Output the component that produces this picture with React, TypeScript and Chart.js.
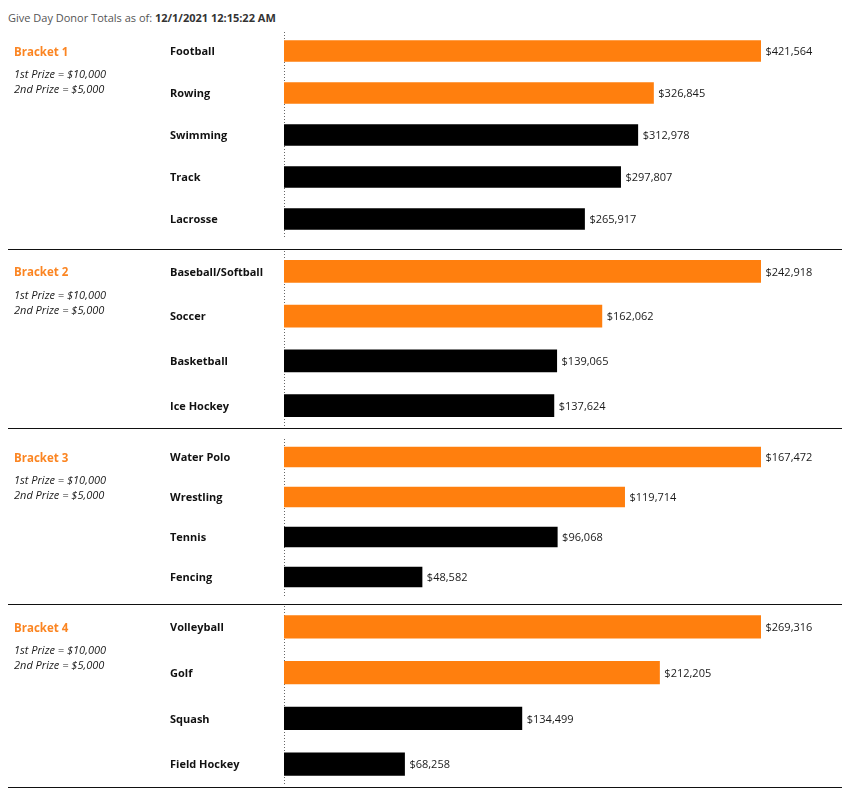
import React, { useEffect, useRef } from "react";
import { Chart, registerables } from "chart.js";

Chart.register(...registerables);

const FONT = "'Open Sans', 'DejaVu Sans', sans-serif";
const ORANGE = "#ff7f0e";
const BLACK = "#000000";

const titleText = "Give Day Donor Totals as of: ";
const titleDate = "12/1/2021 12:15:22 AM";
const prize1 = "1st Prize = $10,000";
const prize2 = "2nd Prize = $5,000";

const bracket1Labels = ["Football", "Rowing", "Swimming", "Track", "Lacrosse"];
const bracket1Values = [421564, 326845, 312978, 297807, 265917];
const bracket1Colors = [ORANGE, ORANGE, BLACK, BLACK, BLACK];

const bracket2Labels = ["Baseball/Softball", "Soccer", "Basketball", "Ice Hockey"];
const bracket2Values = [242918, 162062, 139065, 137624];
const bracket2Colors = [ORANGE, ORANGE, BLACK, BLACK];

const bracket3Labels = ["Water Polo", "Wrestling", "Tennis", "Fencing"];
const bracket3Values = [167472, 119714, 96068, 48582];
const bracket3Colors = [ORANGE, ORANGE, BLACK, BLACK];

const bracket4Labels = ["Volleyball", "Golf", "Squash", "Field Hockey"];
const bracket4Values = [269316, 212205, 134499, 68258];
const bracket4Colors = [ORANGE, ORANGE, BLACK, BLACK];

const CANVAS_W = 834;
const AXIS_LEFT_PAD = 162;
const AXIS_W = 114;
const SCALE_HEADROOM = 558 / 477;

const fmt = (v: number) => "$" + v.toLocaleString("en-US");

type BracketProps = {
  name: string;
  labels: string[];
  values: number[];
  colors: string[];
  top: number;
  height: number;
  padTop: number;
  padBottom: number;
};

function BracketChart(p: BracketProps) {
  const ref = useRef<HTMLCanvasElement | null>(null);
  useEffect(() => {
    if (!ref.current) return;
    const extras = {
      id: "extras",
      beforeDatasetsDraw(chart: any) {
        const ctx = chart.ctx;
        const a = chart.chartArea;
        ctx.save();
        ctx.strokeStyle = "#666";
        ctx.lineWidth = 1;
        ctx.setLineDash([1, 2]);
        ctx.beginPath();
        const x = Math.round(a.left) + 0.5;
        ctx.moveTo(x, a.top + 2);
        ctx.lineTo(x, a.bottom - 1);
        ctx.stroke();
        ctx.restore();
      },
      afterDatasetsDraw(chart: any) {
        const ctx = chart.ctx;
        const meta = chart.getDatasetMeta(0);
        ctx.save();
        ctx.textBaseline = "middle";
        ctx.textAlign = "left";
        ctx.fillStyle = "#1a1a1a";
        ctx.font = `11px ${FONT}`;
        meta.data.forEach((bar: any, i: number) => {
          ctx.fillText(fmt(p.values[i]), bar.x + 4.5, bar.y + 1);
        });
        const y0 = meta.data[0].y;
        ctx.fillStyle = "#fb8522";
        ctx.font = `bold 11.5px ${FONT}`;
        ctx.fillText(p.name, 6, y0 + 1.5);
        ctx.fillStyle = "#1a1a1a";
        ctx.font = `italic 11px ${FONT}`;
        ctx.fillText(prize1, 6, y0 + 24);
        ctx.fillText(prize2, 6, y0 + 39);
        ctx.restore();
      },
    };
    const chart = new Chart(ref.current, {
      type: "bar",
      data: {
        labels: p.labels,
        datasets: [
          {
            data: p.values,
            backgroundColor: p.colors,
            borderWidth: 0,
            barPercentage: 0.51,
            categoryPercentage: 1,
          },
        ],
      },
      options: {
        indexAxis: "y",
        animation: false,
        responsive: false,
        maintainAspectRatio: false,
        layout: { padding: { left: AXIS_LEFT_PAD, right: 0, top: p.padTop, bottom: p.padBottom } },
        plugins: { legend: { display: false }, tooltip: { enabled: false } },
        scales: {
          x: {
            display: false,
            min: 0,
            max: Math.max(...p.values) * SCALE_HEADROOM,
          },
          y: {
            grid: { display: false, drawTicks: false },
            border: { display: false },
            ticks: {
              crossAlign: "far",
              padding: 0,
              labelOffset: 1,
              color: "#111",
              font: { family: FONT, size: 11, weight: "bold" },
            },
            afterFit(scale: any) {
              scale.width = AXIS_W;
              scale.paddingTop = 0;
              scale.paddingBottom = 0;
            },
          },
        },
      },
      plugins: [extras],
    } as any);
    return () => chart.destroy();
  }, []);
  return (
    <canvas
      ref={ref}
      width={CANVAS_W}
      height={p.height}
      style={{ position: "absolute", left: 0, top: p.top, width: CANVAS_W, height: p.height, display: "block" }}
    />
  );
}

const lineStyle = (top: number): React.CSSProperties => ({
  position: "absolute",
  left: 0,
  top,
  width: CANVAS_W,
  height: 1,
  background: "#111",
});

export default function App() {
  return (
    <div style={{ position: "relative", width: CANVAS_W, height: 782, fontFamily: FONT }}>
      <div
        style={{
          position: "absolute",
          left: 0,
          top: 2,
          fontSize: 11,
          lineHeight: "15px",
          color: "#555",
          whiteSpace: "nowrap",
        }}
      >
        {titleText}
        <b style={{ color: "#333" }}>{titleDate}</b>
      </div>
      <BracketChart name="Bracket 1" labels={bracket1Labels} values={bracket1Values} colors={bracket1Colors} top={20} height={221} padTop={2} padBottom={9} />
      <BracketChart name="Bracket 2" labels={bracket2Labels} values={bracket2Values} colors={bracket2Colors} top={241} height={179} padTop={0} padBottom={0} />
      <BracketChart name="Bracket 3" labels={bracket3Labels} values={bracket3Values} colors={bracket3Colors} top={421} height={175} padTop={8} padBottom={7} />
      <BracketChart name="Bracket 4" labels={bracket4Labels} values={bracket4Values} colors={bracket4Colors} top={596} height={183} padTop={0} padBottom={0} />
      <div style={lineStyle(241)} />
      <div style={lineStyle(420)} />
      <div style={lineStyle(596)} />
      <div style={lineStyle(779)} />
    </div>
  );
}
